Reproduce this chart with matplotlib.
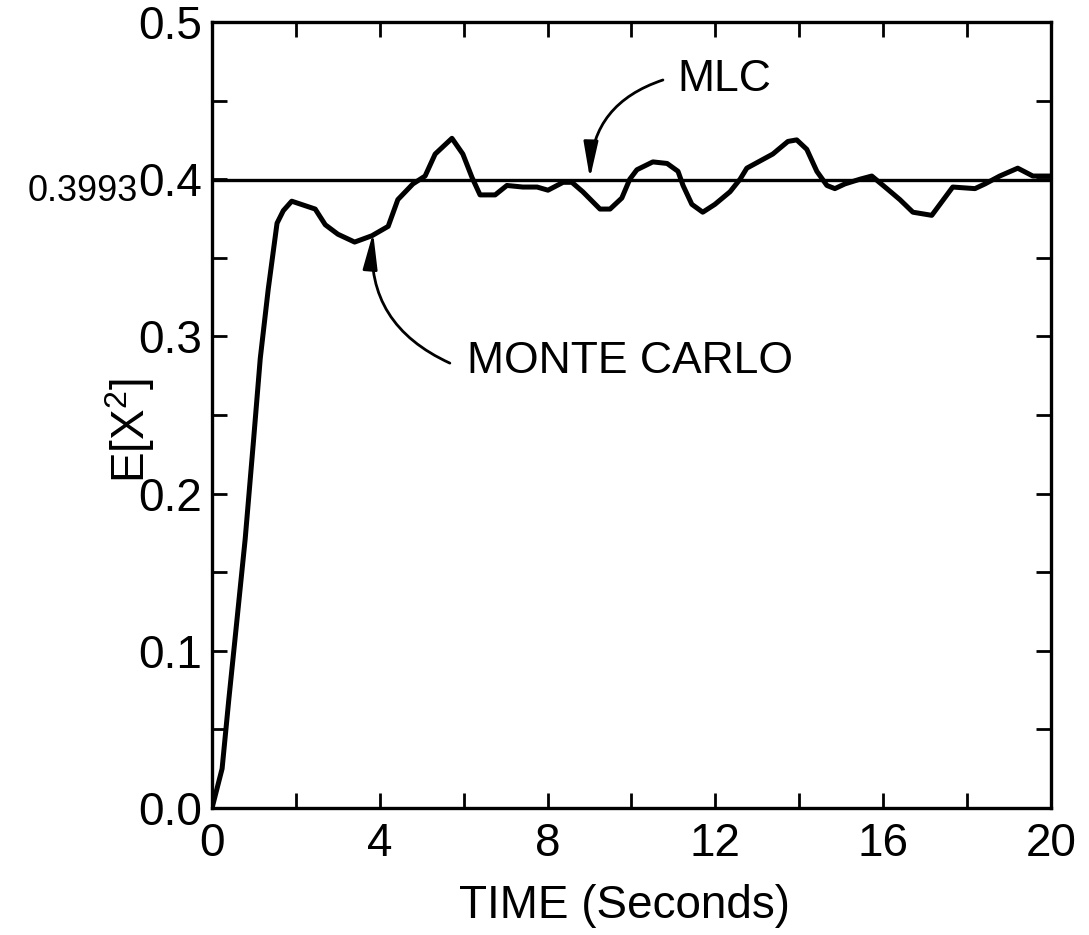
import matplotlib
matplotlib.use("Agg")
import matplotlib.pyplot as plt
from matplotlib.ticker import MultipleLocator, FixedLocator

plt.rcParams['font.family'] = ['Liberation Sans', 'DejaVu Sans']
plt.rcParams['mathtext.fontset'] = 'custom'
plt.rcParams['mathtext.rm'] = 'Liberation Sans'
plt.rcParams['mathtext.it'] = 'Liberation Sans'

# Monte Carlo estimate of E[X^2] over time
time_s = [0.0, 0.24, 0.40, 0.55, 0.79, 0.99, 1.15, 1.34, 1.55, 1.70, 1.90,
          2.46, 2.70, 3.00, 3.40, 3.81, 4.20, 4.43, 4.79, 5.08, 5.32, 5.72,
          5.98, 6.20, 6.39, 6.75, 7.03, 7.41, 7.75, 8.01, 8.37, 8.58, 8.84,
          9.25, 9.49, 9.77, 9.96, 10.13, 10.51, 10.85, 11.11, 11.23, 11.44,
          11.70, 11.99, 12.35, 12.59, 12.75, 13.37, 13.73, 13.94, 14.18,
          14.42, 14.66, 14.85, 15.09, 15.45, 15.73, 16.09, 16.40, 16.71,
          17.16, 17.66, 18.19, 18.43, 18.78, 19.21, 19.57, 20.0]
monte_carlo = [0.0, 0.025, 0.069, 0.108, 0.171, 0.234, 0.286, 0.330, 0.372,
               0.380, 0.386, 0.381, 0.371, 0.365, 0.360, 0.364, 0.370, 0.387,
               0.397, 0.402, 0.416, 0.426, 0.416, 0.401, 0.390, 0.390, 0.396,
               0.395, 0.395, 0.393, 0.398, 0.398, 0.392, 0.381, 0.381, 0.388,
               0.400, 0.406, 0.411, 0.410, 0.405, 0.396, 0.384, 0.379, 0.384,
               0.392, 0.400, 0.407, 0.416, 0.424, 0.425, 0.419, 0.405, 0.396,
               0.394, 0.397, 0.400, 0.402, 0.394, 0.387, 0.379, 0.377, 0.395,
               0.394, 0.397, 0.402, 0.407, 0.402, 0.402]
mlc_value = 0.3993

x_major = [0, 4, 8, 12, 16, 20]
x_labels = ['0', '4', '8', '12', '16', '20']
y_major = [0.0, 0.1, 0.2, 0.3, 0.4, 0.5]
y_labels = ['0.0', '0.1', '0.2', '0.3', '0.4', '0.5']

fig = plt.figure(figsize=(10.89, 9.35), dpi=100)
ax = fig.add_axes([0.1947, 0.1358, 0.7703, 0.8407])

ax.plot(time_s, monte_carlo, color='black', lw=3.6, solid_joinstyle='round')
ax.axhline(mlc_value, color='black', lw=2.4)

ax.set_xlim(0, 20)
ax.set_ylim(0, 0.5)
ax.xaxis.set_major_locator(FixedLocator(x_major))
ax.set_xticklabels(x_labels)
ax.xaxis.set_minor_locator(MultipleLocator(2))
ax.yaxis.set_major_locator(FixedLocator(y_major))
ax.set_yticklabels(y_labels)
ax.yaxis.set_minor_locator(MultipleLocator(0.05))

ax.tick_params(which='both', direction='in', top=True, right=True,
               length=11, width=2, color='black')
ax.tick_params(axis='x', which='major', labelsize=33, pad=10)
ax.tick_params(axis='y', which='major', labelsize=33, pad=7)
for s in ax.spines.values():
    s.set_linewidth(2.4)

ax.set_xlabel('TIME (Seconds)', fontsize=33)
ax.xaxis.set_label_coords(0.492, -0.097)
ax.set_ylabel(r'$\mathrm{E[X^2]}$', fontsize=33)
ax.yaxis.set_label_coords(-0.066, 0.48)

ax.text(-0.088, 0.386, '0.3993', transform=ax.get_yaxis_transform(),
        ha='right', va='baseline', fontsize=26)

# Annotations
ax.text(11.1, 0.4637, 'MLC', fontsize=32, ha='left', va='center')
ax.annotate('', xy=(9.01, 0.4005), xytext=(10.75, 0.4631),
            arrowprops=dict(arrowstyle='-|>,head_length=1.0,head_width=0.2',
                            connectionstyle='arc3,rad=0.35', lw=2,
                            color='black', mutation_scale=22,
                            shrinkA=0, shrinkB=0))
ax.text(6.08, 0.284, 'MONTE CARLO', fontsize=32, ha='left', va='center')
ax.annotate('', xy=(3.84, 0.366), xytext=(5.67, 0.283),
            arrowprops=dict(arrowstyle='-|>,head_length=1.0,head_width=0.2',
                            connectionstyle='arc3,rad=-0.35', lw=2,
                            color='black', mutation_scale=22,
                            shrinkA=0, shrinkB=0))

fig.savefig('out.png', dpi=100)
